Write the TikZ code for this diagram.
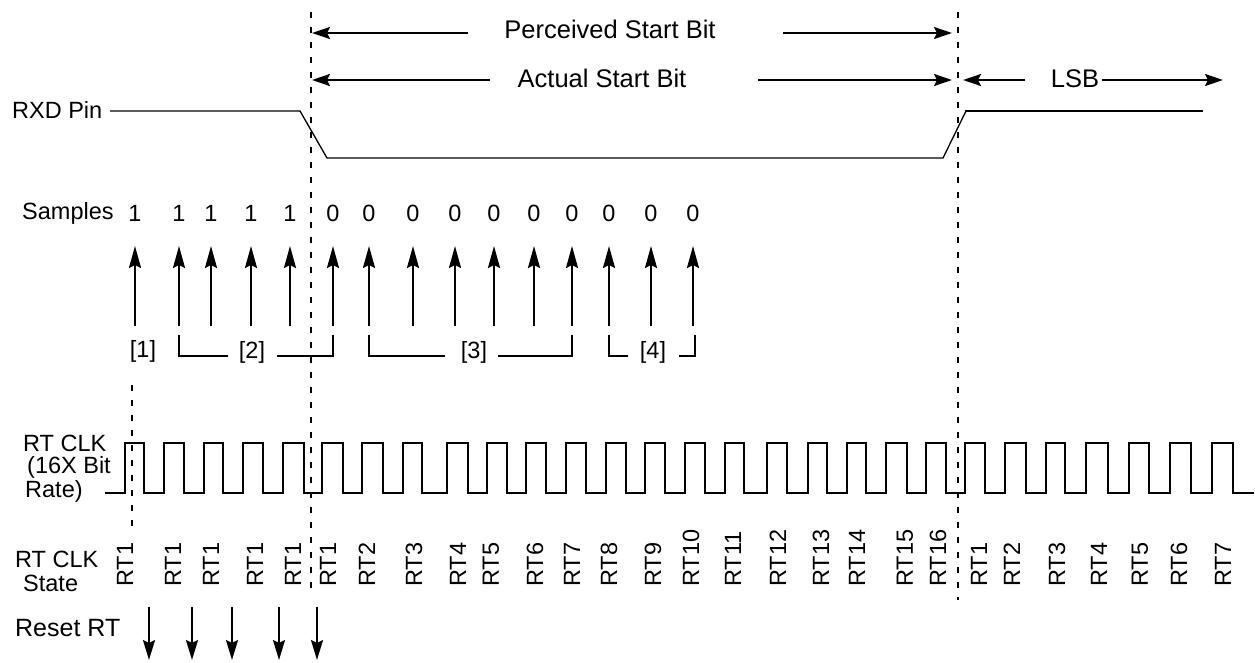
\documentclass[tikz,border=0pt]{standalone}
\usepackage{fontspec}
\setmainfont{Liberation Sans}
\usetikzlibrary{arrows.meta}
\begin{document}
\begin{tikzpicture}[x=1pt,y=-1pt,
  lbl/.style={font=\fontsize{23.5}{22}\selectfont, inner sep=0pt},
  toplbl/.style={font=\fontsize{25.5}{26}\selectfont, inner sep=0pt},
  rtl/.style={lbl, rotate=90, anchor=west},
  dashln/.style={line width=1.3pt, dash pattern=on 6pt off 9pt},
  harrow/.style={line width=2.2pt, -{Stealth[length=18pt,width=12pt,inset=3pt]}},
  uparrow/.style={line width=2.2pt, -{Stealth[length=22pt,width=12pt,inset=3pt]}},
  downarrow/.style={line width=2.2pt, -{Stealth[length=20pt,width=12pt,inset=3pt]}},
  brk/.style={line width=1.8pt},
  sig/.style={line width=1.3pt},
  clk/.style={line width=2.3pt, line join=miter}
]
\useasboundingbox (0,0) rectangle (1255,662);

% dashed reference lines
\coordinate (d1t) at (311,12);  \coordinate (d1b) at (311,588);
\coordinate (d2t) at (958,12);  \coordinate (d2b) at (958,600);
\coordinate (d3t) at (132,385); \coordinate (d3b) at (132,530);
\draw[dashln] (d1t) -- (d1b);
\draw[dashln] (d2t) -- (d2b);
\draw[dashln] (d3t) -- (d3b);

% top labels and arrows
\node[toplbl] (psb) at (610,29) {Perceived Start Bit};
\node[toplbl] (asb) at (602,78) {Actual Start Bit};
\node[toplbl] (lsb) at (1075,79) {LSB};
\coordinate (p1) at (468,33); \coordinate (p1e) at (312,33);
\coordinate (p2) at (783,33); \coordinate (p2e) at (952,33);
\coordinate (a1) at (490,80); \coordinate (a1e) at (312,80);
\coordinate (a2) at (758,80); \coordinate (a2e) at (952,80);
\coordinate (l1) at (1025,80); \coordinate (l1e) at (963,80);
\coordinate (l2) at (1102,80); \coordinate (l2e) at (1223,80);
\draw[harrow] (p1) -- (p1e);
\draw[harrow] (p2) -- (p2e);
\draw[harrow] (a1) -- (a1e);
\draw[harrow] (a2) -- (a2e);
\draw[harrow] (l1) -- (l1e);
\draw[harrow] (l2) -- (l2e);

% RXD pin
\node[lbl, anchor=west] (rxd) at (12,110) {RXD Pin};
\draw[sig] (110,111) -- (300,111) -- (327,158) -- (943,158) -- (966,111);
\draw[line width=2pt] (965,111) -- (1203,111);

% samples
\node[lbl, anchor=west] (smp) at (22,213) {Samples};
\foreach \x/\v [count=\i] in {135/1,179/1,211/1,251/1,290/1,333/0,369/0,413/0,455/0,494/0,534/0,572/0,609/0,651/0,693/0}{
  \node[lbl] (s\i) at (\x,213) {\v};
  \coordinate (sa\i) at (\x,326);
  \coordinate (sb\i) at (\x,246);
  \draw[uparrow] (sa\i) -- (sb\i);
}

% brackets
\node[lbl] (b1) at (143,351) {[1]};
\node[lbl] (b2) at (252,352) {[2]};
\node[lbl] (b3) at (474,352) {[3]};
\node[lbl] (b4) at (653,352) {[4]};
\draw[brk] (179,335) -- (179,356) -- (228,356);
\draw[brk] (277,356) -- (333,356) -- (333,335);
\draw[brk] (369,335) -- (369,356) -- (445,356);
\draw[brk] (498,356) -- (572,356) -- (572,335);
\draw[brk] (609,335) -- (609,356) -- (628,356);
\draw[brk] (679,356) -- (695,356) -- (695,335);

% RT CLK
\node[lbl, anchor=west] (clk1) at (23,443) {RT CLK};
\node[lbl, anchor=west] (clk2) at (27,467) {(16X Bit};
\node[lbl, anchor=west] (clk3) at (25,491) {Rate)};
\draw[clk] (105,493)
  \foreach \r/\f in {125/144,164/184,204/223,243/263,283/304,322/343,362/383,403/422,447/468,487/507,526/546,566/586,606/626,645/665,685/705,725/744,767/787,808/827,847/866,886/907,926/946,965/985,1005/1026,1046/1065,1086/1108,1129/1149,1170/1191,1212/1233}
  { -- (\r,493) -- (\r,443) -- (\f,443) -- (\f,493) }
  -- (1254,493);

% RT CLK state
\node[lbl, anchor=west] (st1) at (15,559) {RT CLK};
\node[lbl, anchor=west] (st2) at (23,583) {State};
\foreach \x/\t [count=\i] in {125/RT1,173/RT1,211/RT1,255/RT1,293/RT1,328/RT1,367/RT2,414/RT3,458/RT4,491/RT5,535/RT6,572/RT7,609/RT8,653/RT9,691/RT10,733/RT11,778/RT12,821/RT13,857/RT14,905/RT15,938/RT16,979/RT1,1012/RT2,1057/RT3,1099/RT4,1140/RT5,1179/RT6,1223/RT7}{
  \node[rtl] (rt\i) at (\x,587) {\t};
}

% reset RT
\node[lbl, anchor=west, font=\fontsize{25}{26}\selectfont] (rst) at (15,628) {Reset RT};
\foreach \x [count=\i] in {149,192,232,279,317}{
  \coordinate (ra\i) at (\x,607);
  \coordinate (rb\i) at (\x,660);
  \draw[downarrow] (ra\i) -- (rb\i);
}
\end{tikzpicture}
\end{document}
